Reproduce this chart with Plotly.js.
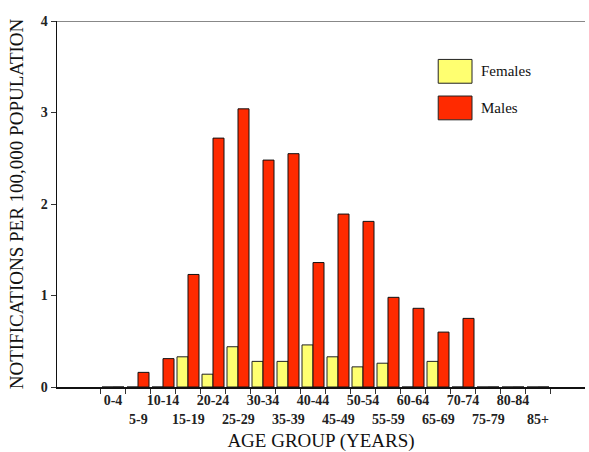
<!DOCTYPE html>
<html>
<head>
<meta charset="utf-8">
<script src="https://cdn.plot.ly/plotly-3.0.1.min.js"></script>
<style>
  html, body { margin: 0; padding: 0; background: #fff; }
  #chart { width: 589px; height: 452px; }
</style>
</head>
<body>
<div id="chart"></div>
<script>
// age groups (categories on the x axis)
const ageGroups = ['0-4', '5-9', '10-14', '15-19', '20-24', '25-29', '30-34', '35-39', '40-44',
    '45-49', '50-54', '55-59', '60-64', '65-69', '70-74', '75-79', '80-84', '85+'];

// notifications per 100,000 population
const femaleRates = [0, 0, 0, 0.33, 0.14, 0.44, 0.28, 0.28, 0.46,
    0.33, 0.22, 0.26, 0, 0.28, 0, 0, 0, 0];
const maleRates = [0, 0.16, 0.31, 1.23, 2.72, 3.04, 2.48, 2.55, 1.36,
    1.89, 1.81, 0.98, 0.86, 0.60, 0.75, 0, 0, 0];

const yTicks = [0, 1, 2, 3, 4];

const serif = '"Liberation Serif", "DejaVu Serif", serif';
const tickFont = {family: serif, size: 14, color: '#222', weight: 'bold'};

// labels alternate between two rows: even ones as tick text, odd ones as annotations below
const tickText = ageGroups.map((g, i) => i % 2 === 0 ? g : '');
const lowerRow = ageGroups
    .filter((g, i) => i % 2 === 1)
    .map(g => ({
        x: g, xref: 'x', y: 0, yref: 'paper', yshift: -32,
        text: g, showarrow: false, yanchor: 'middle',
        font: tickFont
    }));

const femaleTrace = {
    x: ageGroups, y: femaleRates, type: 'bar', name: 'Females',
    marker: {color: '#ffff70', line: {color: '#222', width: 1}},
    showlegend: false
};
const maleTrace = {
    x: ageGroups, y: maleRates, type: 'bar', name: 'Males',
    marker: {color: '#ff2a00', line: {color: '#111', width: 1}},
    showlegend: false
};

// hand drawn legend boxes, so they match the big swatches of the original
const legendItems = [
    {label: 'Females', color: '#ffff70', y0: 0.83, y1: 0.895},
    {label: 'Males', color: '#ff2a00', y0: 0.73, y1: 0.795}
];
const legendShapes = legendItems.map(it => ({
    type: 'rect', xref: 'paper', yref: 'paper',
    x0: 0.722, x1: 0.786, y0: it.y0, y1: it.y1,
    fillcolor: it.color, line: {color: '#222', width: 1}
}));
const legendText = legendItems.map(it => ({
    x: 0.80, xref: 'paper', y: (it.y0 + it.y1) / 2, yref: 'paper',
    text: it.label, showarrow: false, xanchor: 'left', yanchor: 'middle',
    font: {family: serif, size: 15, color: '#111'}
}));

const layout = {
    width: 589, height: 452,
    margin: {l: 57, r: 4, t: 21, b: 65},
    paper_bgcolor: '#fff', plot_bgcolor: '#fff',
    font: {family: serif, color: '#222'},
    barmode: 'group', bargap: 0.12, bargroupgap: 0,
    xaxis: {
        type: 'category', range: [-2.24, 18.88],
        tickvals: ageGroups, ticktext: tickText, tickson: 'boundaries',
        tickangle: 0,
        ticks: 'outside', ticklen: 5, tickcolor: '#333',
        showline: true, linecolor: '#111', linewidth: 1.5,
        showgrid: false, zeroline: false,
        tickfont: tickFont,
        title: {text: 'AGE GROUP (YEARS)', font: {family: serif, size: 19, color: '#111'}, standoff: 30}
    },
    yaxis: {
        range: [0, 4], tickvals: yTicks,
        ticks: 'outside', ticklen: 5, tickcolor: '#333',
        showline: true, linecolor: '#111', linewidth: 1.5,
        showgrid: false, zeroline: false,
        tickfont: tickFont,
        title: {text: 'NOTIFICATIONS PER 100,000 POPULATION', font: {family: serif, size: 19, color: '#111'}, standoff: 12}
    },
    shapes: [
        // grey line along the top of the plot
        {type: 'line', xref: 'paper', yref: 'y', x0: 0, x1: 1, y0: 4, y1: 4, line: {color: '#888', width: 2}}
    ].concat(legendShapes),
    annotations: lowerRow.concat(legendText)
};

Plotly.newPlot('chart', [femaleTrace, maleTrace], layout, {displayModeBar: false, staticPlot: true});
</script>
</body>
</html>
